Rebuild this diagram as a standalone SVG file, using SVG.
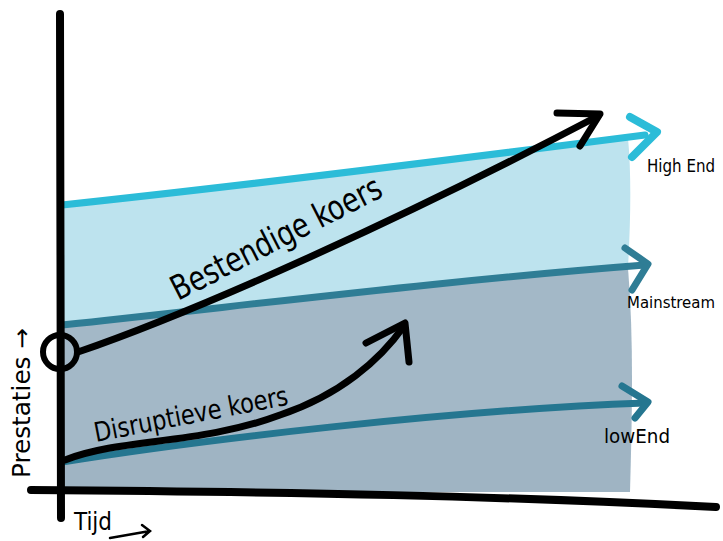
<svg xmlns="http://www.w3.org/2000/svg" width="723" height="541" viewBox="0 0 723 541">
<style>
.ax{stroke:#000;stroke-width:8;stroke-linecap:round;fill:none}
.k{stroke:#000;stroke-width:7;stroke-linecap:round;stroke-linejoin:round;fill:none}
.hand{font-family:"DejaVu Sans Condensed","DejaVu Sans",sans-serif;fill:#000}
</style>
<rect width="723" height="541" fill="#fff"/>
<g id="bands">
<path d="M62,205 C250,185 450,160 628,138 C632,180 630,230 628,268 L62,325 Z" fill="#bde3ee"/>
<path d="M62,325 C250,305 450,285 628,268 C634,340 632,420 630,492 L62,492 Z" fill="#a3b8c7"/>
<path d="M62,462 C200,440 450,410 630,402 L630,492 L62,492 Z" fill="#9fb4c3"/>
</g>
<g id="connectors">
<g id="high-end-line">
<path d="M62,205 C250,185 450,160 645,135" stroke="#2bbcd8" stroke-width="7" fill="none" stroke-linecap="round"/>
<path d="M630,117 L657,132 L632,157" stroke="#2bbcd8" stroke-width="8" fill="none" stroke-linecap="round" stroke-linejoin="round"/>
</g>
<g id="mainstream-line">
<path d="M62,325 C250,305 450,280 645,265" stroke="#2f7d95" stroke-width="7" fill="none" stroke-linecap="round"/>
<path d="M625,248 L648,264 L632,290" stroke="#2f7d95" stroke-width="7" fill="none" stroke-linecap="round" stroke-linejoin="round"/>
</g>
<g id="lowend-line">
<path d="M62,462 C200,440 450,410 645,403" stroke="#257690" stroke-width="7" fill="none" stroke-linecap="round"/>
<path d="M622,386 L648,402 L635,418" stroke="#257690" stroke-width="7" fill="none" stroke-linecap="round" stroke-linejoin="round"/>
</g>
<g id="bestendige-koers">
<path class="k" d="M78,352 C200,310 400,220 598,116"/>
<path class="k" d="M557,113 L600,114 L580,146"/>
</g>
<g id="disruptieve-koers">
<path class="k" d="M65,460 C120,438 200,445 280,415 C340,395 380,360 404,326"/>
<path class="k" d="M366,343 L405,323 L409,362"/>
</g>
</g>
<g id="axes">
<path class="ax" d="M60,14 L61,518"/>
<path class="ax" d="M31,490 C300,492 500,496 716,507"/>
</g>
<g id="origin">
<circle cx="60" cy="352" r="17" fill="none" stroke="#000" stroke-width="6"/>
</g>
<g id="labels">
<text class="hand" x="647" y="172" font-size="17" textLength="68" lengthAdjust="spacingAndGlyphs">High End</text>
<text class="hand" x="627" y="308" font-size="16" textLength="88" lengthAdjust="spacingAndGlyphs">Mainstream</text>
<text class="hand" x="604" y="443" font-size="20" textLength="66" lengthAdjust="spacingAndGlyphs">lowEnd</text>
<text class="hand" font-size="34" textLength="232" lengthAdjust="spacingAndGlyphs" transform="translate(178,301) rotate(-27)">Bestendige koers</text>
<text class="hand" font-size="27" textLength="197" lengthAdjust="spacingAndGlyphs" transform="translate(96,442) rotate(-11)">Disruptieve koers</text>
<text class="hand" font-size="24" textLength="150" lengthAdjust="spacingAndGlyphs" transform="translate(30,478) rotate(-90)">Prestaties →</text>
<text class="hand" x="74" y="530" font-size="24" textLength="38" lengthAdjust="spacingAndGlyphs">Tijd</text>
<path d="M110,538 L150,531 M142,525 L150,531 L143,537" stroke="#000" stroke-width="2.5" fill="none" stroke-linecap="round"/>
</g>
</svg>
